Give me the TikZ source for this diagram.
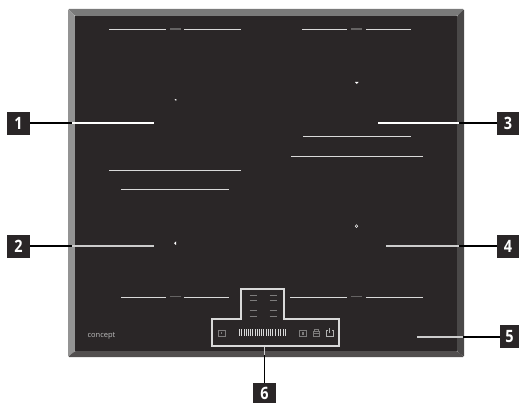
\documentclass[tikz,border=0pt]{standalone}
\usepackage{fontspec}
\setmainfont{Open Sans}
\newfontfamily\labfont[FakeStretch=0.85]{Open Sans}
\definecolor{glass}{HTML}{2A2627}
\definecolor{rimtop}{HTML}{7A7A7A}
\definecolor{rimleft}{HTML}{939393}
\definecolor{rimright}{HTML}{4A4848}
\definecolor{rimbottom}{HTML}{524F4F}
\definecolor{printgrey}{HTML}{7E7C7C}
\tikzset{
	labbox/.style={fill=glass,text=white,inner sep=0pt,minimum width=23pt,minimum height=23pt,font=\labfont\fontsize{17}{17}\selectfont\bfseries},
	leadin/.style={draw=white,line width=1.1pt},
	leaddim/.style={draw=white!80!black,line width=1.1pt},
	leadout/.style={draw=black,line width=1.1pt},
	zoneline/.style={draw=white!85!black,line width=.7pt},
	panel/.style={draw=white!85!black,line width=1.1pt},
	printed/.style={draw=printgrey,line width=.6pt}
}
\begin{document}
\begin{tikzpicture}[x=1pt,y=-1pt]
		\useasboundingbox (0,0) rectangle (519,403);
		% hob
		\fill[rimtop,rounded corners=1pt] (68,9) -- (464,9) -- (457,16) -- (75,16) -- cycle;
		\fill[rimleft,rounded corners=1pt] (68,9) -- (75,16) -- (75,351) -- (68,357) -- cycle;
		\fill[rimright,rounded corners=1pt] (464,9) -- (464,357) -- (457,351) -- (457,16) -- cycle;
		\fill[rimbottom,rounded corners=1pt] (68,357) -- (75,351) -- (457,351) -- (464,357) -- cycle;
		\fill[glass] (75,16) rectangle (457,351);
		% zones
		\foreach \xa/\xb/\yy in {109/166/29,184/241/29,302/347/29,366/411/29,303/411/136,291/423/156,109/241/170,121/229/189,121/166/297,184/229/297,290/347/297,366/423/297}
			\draw[zoneline] (\xa,\yy)--(\xb,\yy);
		\foreach \xx/\yy in {175.5/29,356.5/29,175.5/296.5,356.5/296.5}
			\draw[printgrey!80!black,line width=1.5pt] (\xx-5.5,\yy)--(\xx+5.5,\yy);
		% centre marks
		\fill[white] (174.5,99) -- (176.5,99.5) -- (176,101) -- cycle;
		\fill[white] (355,82) -- (358.5,82) -- (356.8,84) -- cycle;
		\fill[white] (176,241.5) -- (176,245) -- (174,243.2) -- cycle;
		\draw[white,line width=.5pt] (356.5,224.8) -- (357.8,226.2) -- (356.5,227.5) -- (355.2,226.2) -- cycle;
		% control panel
		\draw[panel] (212,319)--(241,319)--(241,289)--(284,289)--(284,319)--(339,319)--(339,346)--(212,346)--cycle;
		\foreach \xx in {253,273} \foreach \yy in {295,300,310,316}
			\draw[printed,line width=.5pt] (\xx-3.5,\yy)--(\xx+3.5,\yy);
		\foreach \i in {0,...,15}
			\draw[white!85!black,line width=.7pt] ({239.5+2.2*\i},329)--({239.5+2.2*\i},336);
		\foreach \i in {0,...,4}
			\draw[white!85!black,line width=.7pt] ({275.8+2.4*\i},329)--({275.8+2.4*\i},336);
		\draw[printed] (218,330)rectangle(225,336);
		\draw[printed] (221.5,332)--(221.5,334);
		\draw[printed] (299.5,330)rectangle(306,336);
		\fill[printgrey] (301.5,332)rectangle(304,334.5);
		\draw[printed] (313,331)rectangle(319.5,336) (314.5,331)--(314.5,329.5)--(318,329.5)--(318,331) (313,333.5)--(319.5,333.5);
		\draw[white!70!black,line width=.7pt] (327.5,330)--(326,330)--(326,336)--(333,336)--(333,330)--(331.5,330) (329.5,328)--(329.5,333);
		\node[text=white!75!black,inner sep=0pt,font=\fontsize{7.5}{7.5}\selectfont] (brand) at (101.5,336){concept};
		% callouts
		\node[labbox] (lab1) at (18.5,123.5){1};
		\node[labbox] (lab2) at (18.5,246.5){2};
		\node[labbox,minimum width=22pt] (lab3) at (508,123.5){3};
		\node[labbox,minimum width=22pt] (lab4) at (508,246.5){4};
		\node[labbox,minimum width=19pt] (lab5) at (509.5,336.5){5};
		\node[labbox,minimum height=20pt] (lab6) at (264.5,393){6};
		\coordinate (rim1) at (72,123); \coordinate (end1) at (154,123);
		\coordinate (rim2) at (72,246); \coordinate (end2) at (154,246);
		\coordinate (rim3) at (459,123); \coordinate (end3) at (378,123);
		\coordinate (rim4) at (459,246); \coordinate (end4) at (386,246);
		\coordinate (rim5) at (463,337); \coordinate (end5) at (417,337);
		\coordinate (rim6) at (264.5,355); \coordinate (end6) at (264.5,347);
		\foreach \n in {1,3}
			\draw[leadin] (rim\n)--(end\n);
		\foreach \n in {2,4,5,6}
			\draw[leaddim] (rim\n)--(end\n);
		\foreach \n in {1,2}
			\draw[leadout] (lab\n.east|-rim\n)--(rim\n);
		\foreach \n in {3,4,5}
			\draw[leadout] (lab\n.west|-rim\n)--(rim\n);
		\draw[leadout] (lab6.north)--(rim6);
		\end{tikzpicture}
\end{document}
